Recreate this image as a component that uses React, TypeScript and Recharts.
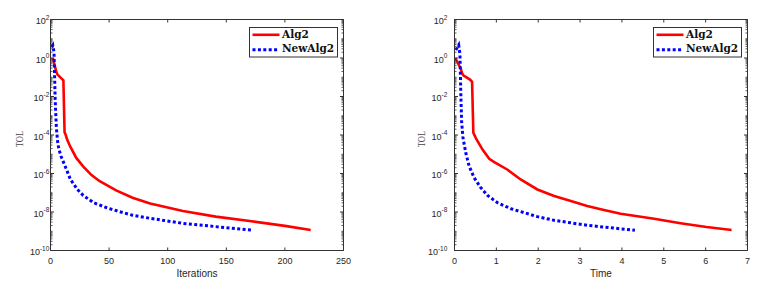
import React from "react";
import { LineChart, Line, XAxis, YAxis, ReferenceArea } from "recharts";

// TOL vs iterations (left panel)
const alg2Iter = [2, 5, 6, 10, 11, 12, 13, 14, 15, 17, 22, 28, 35, 42, 56, 70, 85, 113, 141, 170, 200, 222];
const alg2IterTol = [1, 0.186, 0.138, 0.0794, 0.0692, 1.41e-4, 1.0e-4, 6.3e-5, 4.47e-5, 2.4e-5, 6.46e-6, 2.29e-6, 8.3e-7, 3.98e-7, 1.32e-7, 5.5e-8, 2.75e-8, 1.12e-8, 5.75e-9, 3.39e-9, 1.9e-9, 1.17e-9];
const newAlg2Iter = [1, 2, 3, 4, 5, 6, 7, 9, 13, 17, 23, 28, 37, 48, 60, 70, 85, 113, 141, 173];
const newAlg2IterTol = [3.5, 4.5, 2.0, 6.3e-3, 2.5e-4, 5.0e-5, 2.0e-5, 7.9e-6, 2.0e-6, 4.9e-7, 1.48e-7, 7.2e-8, 3.0e-8, 1.66e-8, 1.0e-8, 6.8e-9, 4.7e-9, 2.57e-9, 1.74e-9, 1.12e-9];

// TOL vs time (right panel)
const alg2Time = [0.02, 0.15, 0.18, 0.21, 0.37, 0.42, 0.45, 0.51, 0.67, 0.83, 0.95, 1.26, 1.58, 1.98, 2.38, 2.78, 3.17, 3.57, 3.97, 4.77, 5.4, 6.02, 6.62];
const alg2TimeTol = [1, 0.28, 0.166, 0.126, 0.076, 0.0575, 1.32e-4, 6.9e-5, 1.74e-5, 5.75e-6, 3.9e-6, 1.62e-6, 4.9e-7, 1.48e-7, 6.8e-8, 3.7e-8, 2.04e-8, 1.26e-8, 8.1e-9, 4.5e-9, 2.63e-9, 1.66e-9, 1.17e-9];
const newAlg2Time = [0.03, 0.1, 0.13, 0.15, 0.17, 0.2, 0.27, 0.35, 0.47, 0.63, 0.79, 1.03, 1.35, 1.98, 2.38, 3.17, 4.31];
const newAlg2TimeTol = [2.6, 4.7, 1.6, 1.6e-2, 5.0e-4, 7.9e-5, 1.17e-5, 2.4e-6, 6.0e-7, 1.82e-7, 7.2e-8, 3.0e-8, 1.48e-8, 5.75e-9, 3.7e-9, 2.04e-9, 1.12e-9];

const iterTicks = [0, 50, 100, 150, 200, 250];
const timeTicks = [0, 1, 2, 3, 4, 5, 6, 7];
const tolMajor = [1e-10, 1e-8, 1e-6, 1e-4, 1e-2, 1, 100];

// minor ticks 2..9 in every decade, plus odd decades
const tolTicks: number[] = [];
for (let e = -10; e < 2; e++) {
  for (let k = 1; k <= 9; k++) tolTicks.push(k * Math.pow(10, e));
}
tolTicks.push(100);

const RED = "#ff0000";
const BLUE = "#0000ff";
const AXIS = "#333333";
const TXT = "#262626";
const SANS = "'Liberation Sans', Arial, sans-serif";
const SERIF = "'DejaVu Serif', serif";
const TOP = 19.5;
const BOTTOM = 250.5;

const zip = (xs: number[], ys: number[]) => xs.map((x, i) => ({ x, tol: ys[i] }));

interface PanelProps {
  left: number;
  width: number;
  plotLeft: number;
  plotRight: number;
  xMax: number;
  xTicks: number[];
  xLabel: string;
  labelEnd: number;
  tolX: number;
  alg2: { x: number; tol: number }[];
  newAlg2: { x: number; tol: number }[];
}

function Panel({ left, width, plotLeft, plotRight, xMax, xTicks, xLabel, labelEnd, tolX, alg2, newAlg2 }: PanelProps) {
  const renderXTick = (p: any) => (
    <g>
      <line x1={p.x} x2={p.x} y1={BOTTOM} y2={BOTTOM - 3} stroke={AXIS} />
      <line x1={p.x} x2={p.x} y1={TOP} y2={TOP + 3} stroke={AXIS} />
      <text x={p.x} y={BOTTOM + 13} textAnchor="middle" fontSize={9} fill={TXT} fontFamily={SANS}>
        {p.payload.value}
      </text>
    </g>
  );

  const renderYTick = (p: any) => {
    const v = p.payload.value;
    const major = tolMajor.includes(v);
    const len = major ? 3.5 : 2;
    const e = Math.round(Math.log10(v));
    return (
      <g>
        <line x1={plotLeft} x2={plotLeft + len} y1={p.y} y2={p.y} stroke={AXIS} strokeOpacity={major ? 1 : 0.8} />
        <line x1={plotRight - len} x2={plotRight} y1={p.y} y2={p.y} stroke={AXIS} strokeOpacity={major ? 1 : 0.8} />
        {major && (
          <text x={labelEnd} y={p.y + 4.5} textAnchor="end" fontSize={9} fill={TXT} fontFamily={SANS}>
            10
            <tspan fontSize={6.5} dy={-4.5}>{e}</tspan>
          </text>
        )}
      </g>
    );
  };

  const legendLeft = plotRight - 94.5;

  return (
    <div style={{ position: "absolute", left, top: 0, width, height: 283 }}>
      <LineChart width={width} height={283} margin={{ top: TOP, right: width - plotRight, bottom: 0, left: 0 }}>
        <XAxis
          type="number"
          dataKey="x"
          domain={[0, xMax]}
          ticks={xTicks}
          interval={0}
          allowDataOverflow
          height={283 - BOTTOM}
          axisLine={false}
          tickLine={false}
          tick={renderXTick}
          label={() => (
            <text x={(plotLeft + plotRight) / 2} y={277} textAnchor="middle" fontSize={10} fill={TXT} fontFamily={SANS}>
              {xLabel}
            </text>
          )}
        />
        <YAxis
          type="number"
          scale="log"
          domain={[1e-10, 100]}
          ticks={tolTicks}
          interval={0}
          allowDataOverflow
          width={plotLeft}
          axisLine={false}
          tickLine={false}
          tick={renderYTick}
          label={() => (
            <text
              transform={`translate(${tolX},139) rotate(-90) scale(1,1.25)`}
              textAnchor="middle"
              dominantBaseline="central"
              fontSize={8.5}
              fill="#444"
              fontFamily="'Liberation Serif', serif"
            >
              TOL
            </text>
          )}
        />
        <ReferenceArea x1={0} x2={xMax} y1={1e-10} y2={100} fill="none" stroke={AXIS} strokeWidth={1} ifOverflow="visible" />
        <Line data={alg2} dataKey="tol" type="linear" stroke={RED} strokeWidth={2.6} dot={false} isAnimationActive={false} />
        <Line
          data={newAlg2}
          dataKey="tol"
          type="linear"
          stroke={BLUE}
          strokeWidth={3}
          strokeDasharray="3 2.4"
          dot={false}
          isAnimationActive={false}
        />
      </LineChart>
      {/* legend */}
      <svg style={{ position: "absolute", left: legendLeft, top: 26.5, overflow: "visible" }} width={89} height={30}>
        <rect x={0.5} y={0.5} width={88} height={29.5} fill="#fff" stroke={AXIS} />
        <line x1={3.5} x2={30.5} y1={7.8} y2={7.8} stroke={RED} strokeWidth={2.6} />
        <text x={33} y={11.3} fontSize={10.5} fontWeight="bold" fill="#111" fontFamily={SERIF}>Alg2</text>
        <line x1={3.5} x2={30.5} y1={22.8} y2={22.8} stroke={BLUE} strokeWidth={3} strokeDasharray="3 2.4" />
        <text x={33} y={25} fontSize={10.5} fontWeight="bold" fill="#111" fontFamily={SERIF}>NewAlg2</text>
      </svg>
    </div>
  );
}

export default function App() {
  return (
    <div style={{ position: "absolute", left: 0, top: 0, width: 781, height: 283, background: "#fff" }}>
      <Panel
        left={0}
        width={390}
        plotLeft={50.5}
        plotRight={343.5}
        xMax={250}
        xTicks={iterTicks}
        xLabel="Iterations"
        labelEnd={49.3}
        tolX={19}
        alg2={zip(alg2Iter, alg2IterTol)}
        newAlg2={zip(newAlg2Iter, newAlg2IterTol)}
      />
      <Panel
        left={390}
        width={391}
        plotLeft={64.5}
        plotRight={357.5}
        xMax={7}
        xTicks={timeTicks}
        xLabel="Time"
        labelEnd={57.3}
        tolX={31}
        alg2={zip(alg2Time, alg2TimeTol)}
        newAlg2={zip(newAlg2Time, newAlg2TimeTol)}
      />
    </div>
  );
}
